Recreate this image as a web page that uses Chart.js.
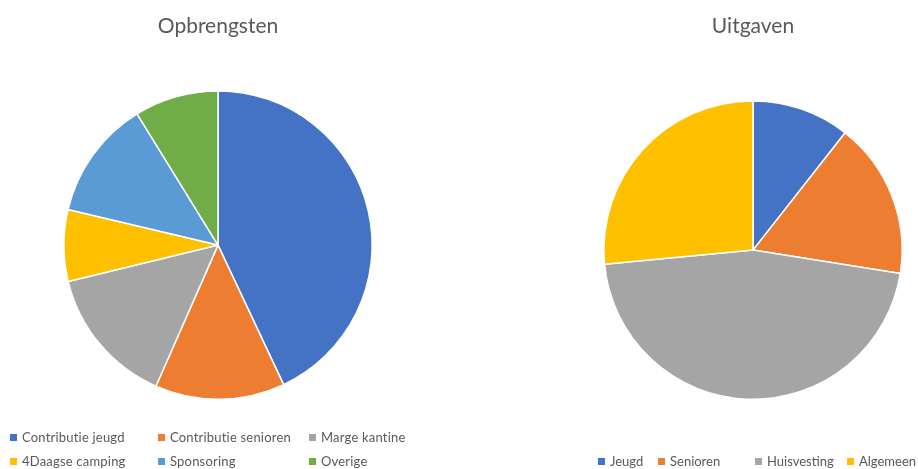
<!DOCTYPE html>
<html>
<head>
<meta charset="utf-8">
<script src="https://cdn.jsdelivr.net/npm/chart.js@4"></script>
<style>
  body { margin: 0; background: #fff; width: 918px; height: 469px; overflow: hidden; font-family: Lato, "Open Sans", sans-serif; }
  .box { position: absolute; top: 0; height: 469px; }
  #left { left: 0; width: 440px; }
  #right { left: 460px; width: 458px; }
  .legend { position: absolute; font-size: 13px; color: #595959; }
  .legend .item { position: absolute; white-space: nowrap; line-height: 16px; }
  #leg1 .item { letter-spacing: 0.2px; }
  .legend .sw { display: inline-block; width: 7px; height: 7px; margin-right: 5px; vertical-align: 1px; }
</style>
</head>
<body>
<div class="box" id="left"><canvas id="c1" width="440" height="469"></canvas></div>
<div class="box" id="right"><canvas id="c2" width="458" height="469"></canvas></div>
<div class="legend" id="leg1"></div>
<div class="legend" id="leg2"></div>
<script>
// ---------- Data ----------
const incomeLabels = ["Contributie jeugd", "Contributie senioren", "Marge kantine", "4Daagse camping", "Sponsoring", "Overige"];
const incomeValues = [43.0, 13.6, 14.6, 7.5, 12.5, 8.8];
const incomeColors = ["#4472C4", "#ED7D31", "#A5A5A5", "#FFC000", "#5B9BD5", "#70AD47"];

const costLabels = ["Jeugd", "Senioren", "Huisvesting", "Algemeen"];
const costValues = [10.6, 16.9, 46.0, 26.5];
const costColors = ["#4472C4", "#ED7D31", "#A5A5A5", "#FFC000"];

function pie(id, title, labels, values, colors, pad) {
  return new Chart(document.getElementById(id), {
    type: "pie",
    data: {
      labels: labels,
      datasets: [{ data: values, backgroundColor: colors, borderColor: "#fff", borderWidth: 1.5 }]
    },
    options: {
      responsive: false,
      animation: false,
      layout: { padding: pad },
      plugins: {
        legend: { display: false },
        tooltip: { enabled: false },
        title: {
          display: true,
          text: title,
          color: "#595959",
          font: { family: "Lato", size: 21, weight: "normal" },
          padding: { top: 14, bottom: pad.titleGap }
        }
      }
    }
  });
}

const ch1 = pie("c1", "Opbrengsten", incomeLabels, incomeValues, incomeColors,
  { left: 63, right: 67, top: 0, bottom: 69, titleGap: 51 });
const ch2 = pie("c2", "Uitgaven", costLabels, costValues, costColors,
  { left: 143, right: 15, top: 0, bottom: 69, titleGap: 61 });

// ---------- Legends ----------
function legend(elId, chart, spots) {
  const el = document.getElementById(elId);
  const ds = chart.data.datasets[0];
  chart.data.labels.forEach((lab, i) => {
    const it = document.createElement("div");
    it.className = "item";
    it.style.left = spots[i][0] + "px";
    it.style.top = spots[i][1] + "px";
    it.innerHTML = '<span class="sw" style="background:' + ds.backgroundColor[i] + '"></span>' + lab;
    el.appendChild(it);
  });
}
legend("leg1", ch1, [[10, 429], [158, 429], [309, 429], [10, 453], [158, 453], [309, 453]]);
legend("leg2", ch2, [[598, 453], [658, 453], [755, 453], [847, 453]]);
</script>
</body>
</html>
